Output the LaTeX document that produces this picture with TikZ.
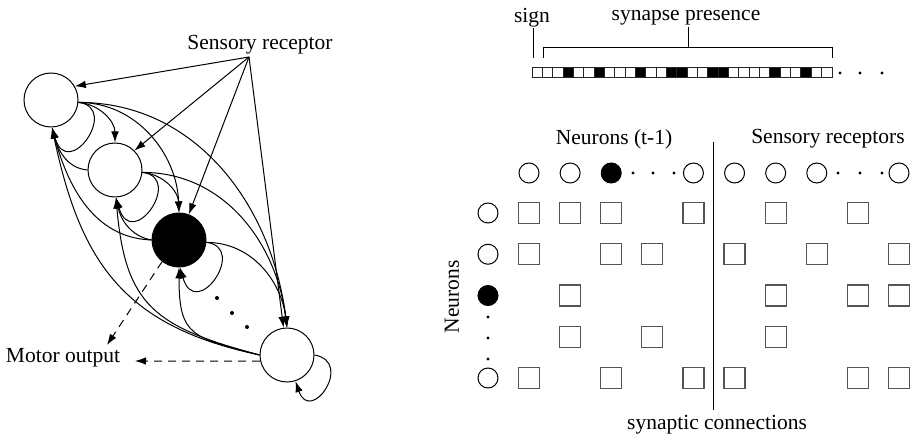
\documentclass[tikz,border=0pt]{standalone}
\usepackage{fontspec}
\setmainfont{Liberation Serif}
\usetikzlibrary{arrows.meta}
\definecolor{sqgray}{RGB}{85,85,85}
\begin{document}
\begin{tikzpicture}[x=0.5pt,y=-0.5pt,
  lbl/.style={inner sep=0pt,font=\fontsize{10.75}{13}\selectfont},
  neuron/.style={circle,draw,line width=0.5pt,minimum size=27pt,inner sep=0pt},
  smc/.style={circle,draw,line width=0.5pt,minimum size=10pt,inner sep=0pt},
  syn/.style={rectangle,draw=sqgray,line width=0.6pt,minimum size=10.5pt,inner sep=0pt},
  bigdot/.style={circle,fill,minimum size=2pt,inner sep=0pt},
  smdot/.style={circle,fill,minimum size=1.7pt,inner sep=0pt},
  cellw/.style={rectangle,draw=black!85,line width=0.5pt,minimum width=5.17pt,minimum height=5pt,inner sep=0pt},
  cellb/.style={cellw,fill=black},
  arr/.style={-{Latex[length=5.5pt,width=3.8pt]},line width=0.5pt},
  darr/.style={arr,dash pattern=on 4pt off 3pt},
  conn/.style={line width=0.5pt}]
\useasboundingbox (0,0) rectangle (917,438);

% ---------------- left graph ----------------
\node[neuron] (A) at (51,100) {};
\node[neuron] (B) at (115,170) {};
\node[neuron,fill=black] (C) at (179,240) {};
\node[neuron] (D) at (287,355) {};
\node[lbl] (sens) at (260,45) {Sensory receptor};
\coordinate (S) at (249,57);
\node[lbl] (motor) at (63,358) {Motor output};
\coordinate (m1) at (107,345);
\coordinate (m2) at (135,361);
\node[bigdot] (d1) at (217,298) {};
\node[bigdot] (d2) at (232,313) {};
\node[bigdot] (d3) at (247,327) {};

% sensory inputs
\draw[arr] (S) -- (A.30);
\draw[arr] (S) -- (B.45);
\draw[arr] (S) -- (C);
\draw[arr] (S) -- (D);

% from A
\draw[arr] (A.-5) to[out=-5,in=90] (B.north);
\draw[arr] (A.-5) to[out=0,in=92] (C.north);
\draw[arr] (A.-5) to[out=0,in=97] (D.north);
\draw[arr] (A.-5) .. controls +(42,5) and +(16,55) .. (A.-88);
% from B
\draw[arr] (B.west) to[out=175,in=-75] (A.-88);
\draw[arr] (B.-5) to[out=-5,in=92] (C.north);
\draw[arr] (B.-5) to[out=0,in=97] (D.north);
\draw[arr] (B.-5) .. controls +(42,5) and +(16,55) .. (B.-88);
% from C
\draw[arr] (C.west) to[out=178,in=-75] (A.-88);
\draw[arr] (C.west) to[out=170,in=-78] (B.-88);
\draw[arr] (C.-5) to[out=0,in=97] (D.north);
\draw[arr] (C.-5) .. controls +(42,5) and +(16,55) .. (C.-88);
% from D
\draw[arr] (D.west) to[out=168,in=-78,looseness=1.15] (A.-88);
\draw[arr] (D.west) to[out=165,in=-85,looseness=1.3] (B.-88);
\draw[arr] (D.west) to[out=165,in=-90,looseness=1.5] (C.south);
\draw[arr] (D.east) .. controls +(40,7) and +(15,44) .. (D.-72);
% motor outputs
\draw[darr] (C.-128) -- (m1);
\draw[darr] (D.-167) -- (m2);

% ---------------- genome bar ----------------
\foreach \i in {0,...,28}{
  \node[cellw] (cell\i) at ({532+10.345*(\i+0.5)},73) {};
}
\foreach \i in {3,6,10,13,14,17,18,23,26}{
  \node[cellb] at (cell\i) {};
}
\node[smdot] (b1) at (840,73) {};
\node[smdot] (b2) at (860,73) {};
\node[smdot] (b3) at (882,73) {};
\node[lbl] (sign) at (532,18) {sign};
\node[lbl] (pres) at (686,18) {synapse presence};
\coordinate (sgtop) at (533,28);
\coordinate (sgbot) at (533,58);
\draw[conn] (sgtop) -- (sgbot);
\coordinate (brL) at (543,58);
\coordinate (brR) at (832,58);
\coordinate (brM) at (688,48);
\coordinate (prtop) at (688,27);
\draw[conn] (brL) -- (543,48) -- (832,48) -- (brR);
\draw[conn] (brM) -- (prtop);

% ---------------- matrix ----------------
\node[lbl] (nt) at (614,139) {Neurons (t-1)};
\node[lbl] (sr) at (828,139) {Sensory receptors};
\node[lbl,rotate=90] (nl) at (452,297) {Neurons};
\node[lbl] (sc) at (717,425) {synaptic connections};
\coordinate (vtop) at (713,142);
\coordinate (vbot) at (713,410);
\draw[conn] (vtop) -- (vbot);

% top row
\foreach \c/\f in {1/white,2/white,3/black,5/white,6/white,7/white,8/white,10/white}{
  \node[smc,fill=\f] (t\c) at ({529+41.11*(\c-1)},173) {};
}
\foreach \x in {633,653,674,838,860,882}{
  \node[smdot] at (\x,173) {};
}
% left column
\foreach \r/\f in {1/white,2/white,3/black,5/white}{
  \node[smc,fill=\f] (l\r) at (488,{213+41.25*(\r-1)}) {};
}
\foreach \y in {317,338,359}{
  \node[smdot] at (488,\y) {};
}
% squares
\foreach \r/\c in {1/1,1/2,1/3,1/5,1/7,1/9,
                   2/1,2/3,2/4,2/6,2/8,2/10,
                   3/2,3/7,3/9,3/10,
                   4/2,4/4,4/7,
                   5/1,5/3,5/5,5/6,5/9,5/10}{
  \node[syn] (q\r-\c) at ({529+41.11*(\c-1)},{213+41.25*(\r-1)}) {};
}
\end{tikzpicture}
\end{document}
